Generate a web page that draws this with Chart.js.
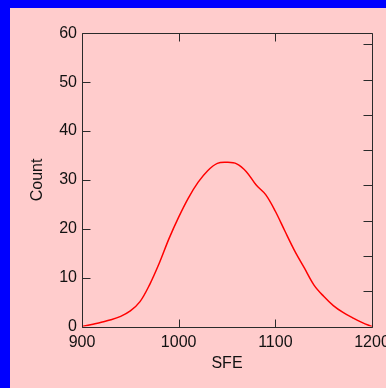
<!DOCTYPE html>
<html>
<head>
<meta charset="utf-8">
<script src="https://cdn.jsdelivr.net/npm/chart.js@4/dist/chart.umd.min.js"></script>
<style>
  html, body { margin: 0; padding: 0; background: #0000ff; overflow: hidden; }
  #panel { position: absolute; left: 10px; top: 8px; width: 376px; height: 380px; background: #ffcccc; }
  #wrap { position: absolute; left: 0; top: 0; width: 386px; height: 388px; }
</style>
</head>
<body>
<div id="panel"></div>
<div id="wrap"><canvas id="chart"></canvas></div>
<script>
// values
const sfe = [900, 910, 920, 930, 940, 950, 960, 970, 980, 990,
             1000, 1010, 1020, 1030, 1040, 1050, 1060, 1070, 1080, 1090,
             1100, 1110, 1120, 1130, 1140, 1150, 1160, 1170, 1180, 1190, 1200];
const count = [0, 0.45, 0.9, 1.4, 2.1, 3.2, 5.1, 8.6, 13.0, 18.0,
               22.4, 26.3, 29.5, 31.9, 33.4, 33.6, 33.3, 31.7, 29.0, 27.0,
               23.6, 19.5, 15.5, 12.0, 8.5, 6.2, 4.3, 2.9, 1.8, 0.8, 0];
const xTicks = [900, 1000, 1100, 1200];
const yTicks = [0, 10, 20, 30, 40, 50, 60];
const rightTicks = [1, 2, 3, 4, 5, 6, 7, 8]; // unlabelled ticks on right edge

const axisColor = '#2a2a2a';
const font = { family: "'Liberation Sans', Arial, sans-serif", size: 16 };

// inward tick marks and frame
const frameTicks = {
    id: 'frameTicks',
    afterDraw(chart) {
        const { ctx, chartArea: a, scales } = chart;
        const L = Math.round(a.left) + 0.5, R = Math.round(a.right) + 0.5;
        const T = Math.round(a.top) + 0.5, B = Math.round(a.bottom) + 0.5;
        const len = 8;
        ctx.save();
        ctx.strokeStyle = axisColor;
        ctx.lineWidth = 1;
        ctx.beginPath();
        ctx.rect(L, T, R - L, B - T);
        xTicks.forEach(v => {
            const px = Math.round(scales.x.getPixelForValue(v)) + 0.5;
            ctx.moveTo(px, B); ctx.lineTo(px, B - len);
            ctx.moveTo(px, T); ctx.lineTo(px, T + len);
        });
        yTicks.forEach(v => {
            const py = Math.round(scales.y.getPixelForValue(v)) + 0.5;
            ctx.moveTo(L, py); ctx.lineTo(L + len, py);
        });
        rightTicks.forEach(v => {
            const py = Math.round(scales.y2.getPixelForValue(v)) + 0.5;
            ctx.moveTo(R, py); ctx.lineTo(R - len - 1, py);
        });
        ctx.stroke();
        ctx.restore();
    }
};

const noPad = s => { s.paddingLeft = 0; s.paddingRight = 0; s.paddingTop = 0; s.paddingBottom = 0; };

new Chart(document.getElementById('chart').getContext('2d'), {
    type: 'line',
    data: {
        datasets: [{
            data: sfe.map((v, i) => ({ x: v, y: count[i] })),
            borderColor: '#ff0000',
            borderWidth: 1.5,
            pointRadius: 0,
            tension: 0.35,
            fill: false
        }]
    },
    options: {
        responsive: true,
        maintainAspectRatio: false,
        animation: false,
        layout: { padding: 0 },
        plugins: { legend: { display: false }, tooltip: { enabled: false } },
        scales: {
            x: {
                type: 'linear', position: 'bottom', min: 900, max: 1200,
                grid: { display: false, drawTicks: false },
                border: { display: false },
                afterBuildTicks: s => { s.ticks = xTicks.map(v => ({ value: v })); },
                afterFit: s => { s.height = 61.4; noPad(s); },
                ticks: { color: '#111', font, padding: 6, maxRotation: 0, autoSkip: false, callback: v => String(v) },
                title: { display: true, text: 'SFE', color: '#111', font, padding: { top: 0, bottom: 15 } }
            },
            x2: {
                type: 'linear', position: 'top', min: 900, max: 1200,
                grid: { display: false, drawTicks: false },
                border: { display: false },
                ticks: { display: false },
                afterFit: s => { s.height = 33.3; noPad(s); }
            },
            y: {
                type: 'linear', position: 'left', min: 0, max: 60,
                grid: { display: false, drawTicks: false },
                border: { display: false },
                afterBuildTicks: s => { s.ticks = yTicks.map(v => ({ value: v })); },
                afterFit: s => { s.width = 82; noPad(s); },
                ticks: { color: '#111', font, padding: 5, callback: v => String(v) },
                title: { display: true, text: 'Count', color: '#111', font, padding: { top: 28, bottom: 0 } }
            },
            y2: {
                type: 'linear', position: 'right', min: 0, max: 8.31,
                grid: { display: false, drawTicks: false },
                border: { display: false },
                ticks: { display: false },
                afterFit: s => { s.width = 14; noPad(s); }
            }
        }
    },
    plugins: [frameTicks]
});
</script>
</body>
</html>
